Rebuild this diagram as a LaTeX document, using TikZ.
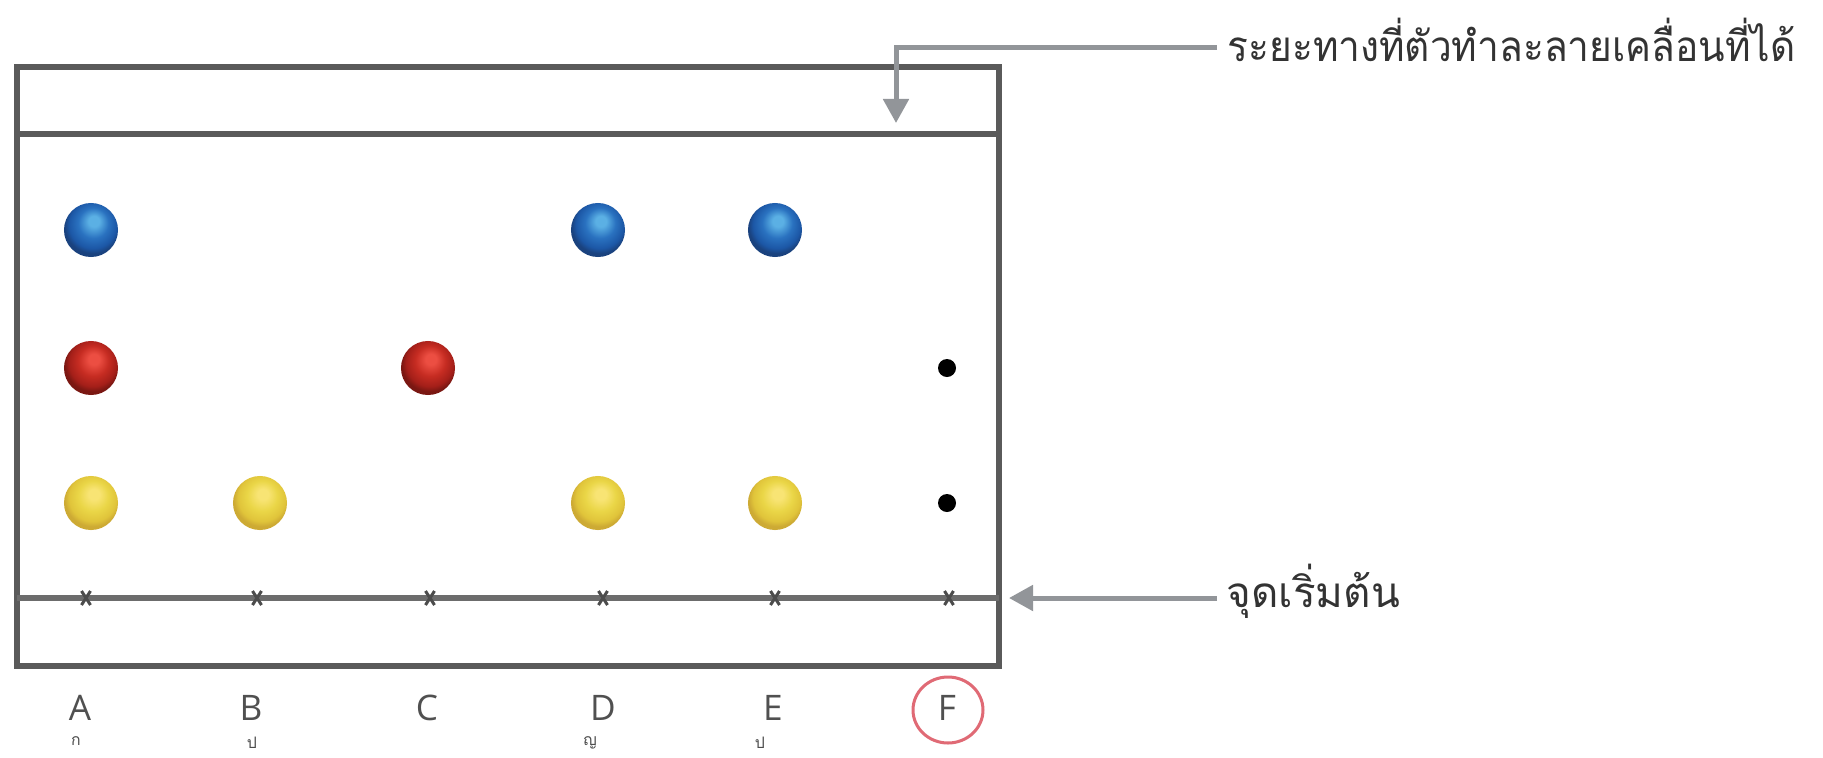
\documentclass[tikz,border=0pt]{standalone}
\usepackage{fontspec}
\usepackage{graphicx}
\setmainfont{Open Sans}
\newfontfamily\thai[Script=Thai]{Loma}
\usetikzlibrary{arrows.meta}

% colours of the plate and the spots
\definecolor{frame}{HTML}{5A5A5A}
\definecolor{startln}{HTML}{6C6C6C}
\definecolor{pointer}{HTML}{929599}
\definecolor{ring}{HTML}{E06A75}
\definecolor{lettergray}{HTML}{505050}
\definecolor{bhl}{HTML}{5BB0E4}
\definecolor{bmid}{HTML}{2A72C0}
\definecolor{bdk}{HTML}{1C57A6}
\definecolor{bedge}{HTML}{1A427E}
\definecolor{rhl}{HTML}{EC4E42}
\definecolor{rmid}{HTML}{C62C22}
\definecolor{rdk}{HTML}{A41F19}
\definecolor{redge}{HTML}{7A1712}
\definecolor{yhl}{HTML}{F8E474}
\definecolor{ymid}{HTML}{EAD647}
\definecolor{ydk}{HTML}{E0C43A}
\definecolor{yedge}{HTML}{CDAA34}

% glossy spot shadings, light falling from the upper right
\pgfdeclareradialshading{bluespot}{\pgfqpoint{3bp}{9bp}}{color(0bp)=(bhl); color(5bp)=(bhl); color(14bp)=(bmid); color(22bp)=(bdk); color(26bp)=(bedge); color(50bp)=(bedge)}
\pgfdeclareradialshading{redspot}{\pgfqpoint{3bp}{9bp}}{color(0bp)=(rhl); color(5bp)=(rhl); color(14bp)=(rmid); color(22bp)=(rdk); color(26bp)=(redge); color(50bp)=(redge)}
\pgfdeclareradialshading{yellowspot}{\pgfqpoint{3bp}{9bp}}{color(0bp)=(yhl); color(5bp)=(yhl); color(14bp)=(ymid); color(22bp)=(ydk); color(26bp)=(yedge); color(50bp)=(yedge)}

\tikzset{
  plate/.style={draw=frame, line width=0.06cm},
  startline/.style={draw=startln, line width=0.065cm},
  tick/.style={draw=black!70, line width=0.03cm},
  ptr/.style={draw=pointer, line width=0.05cm, -{Triangle[length=0.24cm,width=0.25cm]}},
  lane/.style={font=\fontsize{10}{12}\selectfont, text=lettergray, inner sep=0pt},
  tiny/.style={font=\thai\fontsize{4.5}{5}\selectfont, text=black!70, inner sep=0pt, anchor=north},
  caption/.style={font=\thai\fontsize{12}{14}\selectfont, text=black!80, inner sep=0pt, anchor=base west},
  spot/.style={minimum size=0.54cm, inner sep=0pt, circle},
  dot/.style={fill=black, circle, minimum size=0.18cm, inner sep=0pt}
}

\begin{document}
\begin{tikzpicture}[x=0.01cm, y=-0.01cm]
  \useasboundingbox[fill=white] (0,0) rectangle (1823,757);

  % plate outline, solvent front and start line
  \draw[plate] (17,67) rectangle (999,666);
  \draw[plate] (17,134) -- (999,134);
  \draw[startline] (17,598) -- (999,598);

  % application marks on the start line
  \foreach \n/\x in {a/86,b/257,c/430,d/603,e/775,f/949} {
    \coordinate (m\n) at (\x,598);
    \draw[tick] ([xshift=-0.045cm,yshift=0.07cm]m\n) -- ([xshift=0.045cm,yshift=-0.07cm]m\n);
    \draw[tick] ([xshift=-0.045cm,yshift=-0.07cm]m\n) -- ([xshift=0.045cm,yshift=0.07cm]m\n);
  }

  % separated spots
  \node[spot, shading=bluespot] (bA) at (91,230) {};
  \node[spot, shading=bluespot] (bD) at (598,230) {};
  \node[spot, shading=bluespot] (bE) at (775,230) {};
  \node[spot, shading=redspot] (rA) at (91,368) {};
  \node[spot, shading=redspot] (rC) at (428,368) {};
  \node[spot, shading=yellowspot] (yA) at (91,503) {};
  \node[spot, shading=yellowspot] (yB) at (260,503) {};
  \node[spot, shading=yellowspot] (yD) at (598,503) {};
  \node[spot, shading=yellowspot] (yE) at (775,503) {};
  \node[dot] (kF1) at (947,368) {};
  \node[dot] (kF2) at (947,503) {};

  % lane letters
  \node[lane] (lA) at (80,708) {A};
  \node[lane] (lB) at (251,708) {B};
  \node[lane] (lC) at (427,708) {C};
  \node[lane] (lD) at (603,708) {D};
  \node[lane] (lE) at (773,708) {E};
  \node[lane] (lF) at (947,708) {F};
  \draw[draw=ring, line width=0.03cm] (948,710) ellipse [x radius=35, y radius=33];

  % small marks under the letters
  \node[tiny] (sA) at (76,736) {ก};
  \node[tiny] (sB) at (252,736) {ป};
  \node[tiny] (sD) at (590,736) {ญ};
  \node[tiny] (sE) at (760,736) {ป};

  % captions and pointers
  \node[caption] (front) at (1227,61) {\scalebox{0.92}[1]{ระยะทางที่ตัวทำละลายเคลื่อนที่ได้}};
  \node[caption] (start) at (1226,607) {จุดเริ่มต้น};
  \coordinate (fa) at (1217,47);
  \coordinate (fb) at (896,123);
  \draw[ptr] (fa) -| (fb);
  \coordinate (sa) at (1217,598);
  \coordinate (sb) at (1009,598);
  \draw[ptr] (sa) -- (sb);
\end{tikzpicture}
\end{document}
